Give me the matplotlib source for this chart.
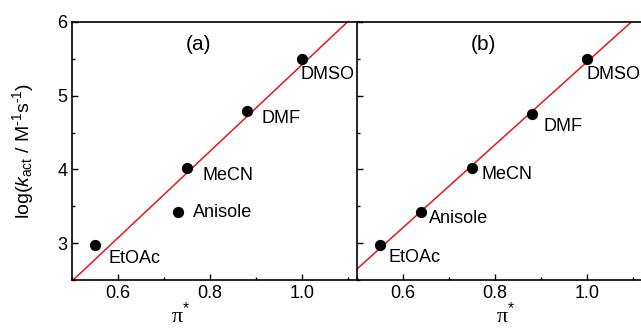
import numpy as np
import matplotlib
matplotlib.use("Agg")
import matplotlib.pyplot as plt
from matplotlib.ticker import MultipleLocator

# solvent data
solvents = ["EtOAc", "Anisole", "MeCN", "DMF", "DMSO"]
pi_a = [0.55, 0.73, 0.75, 0.88, 1.00]
pi_b = [0.55, 0.64, 0.75, 0.88, 1.00]
logk_a = [2.97, 3.42, 4.02, 4.79, 5.50]
logk_b = [2.97, 3.42, 4.02, 4.75, 5.50]

# label offsets in pixels (dx right, dy down)
offs_a = [(14, 13), (15, 0), (16, 8), (15, 7), (-1, 16)]
offs_b = [(9, 12), (8, 6), (10, 7), (12, 12), (0, 16)]

plt.rcParams['font.family'] = ['Liberation Sans', 'DejaVu Sans']
plt.rcParams['mathtext.fontset'] = 'custom'
plt.rcParams['mathtext.rm'] = 'Liberation Sans'
plt.rcParams['mathtext.it'] = 'Liberation Sans:italic'
plt.rcParams['mathtext.sf'] = 'Liberation Serif'

fig = plt.figure(figsize=(6.41, 3.29), dpi=100)
ax1 = fig.add_axes([72 / 641, 49 / 329, 286 / 641, 258 / 329])
ax2 = fig.add_axes([357 / 641, 49 / 329, 286 / 641, 258 / 329])

def draw_panel(ax, x, y, offs, tag):
    x = np.array(x)
    y = np.array(y)
    k, b = np.polyfit(x, y, 1)
    xl = np.array([0.4, 1.2])
    ax.plot(xl, k * xl + b, color='#e8161b', lw=1.1, zorder=2)
    ax.scatter(x, y, s=50, color='black', zorder=3)
    for name, xi, yi, (dx, dy) in zip(solvents, x, y, offs):
        ax.annotate(name, (xi, yi), xytext=(dx * 0.72, -dy * 0.72),
                    textcoords='offset points', ha='left', va='center', fontsize=13)
    ax.text(0.775, 5.70, tag, ha='center', va='center', fontsize=15)
    ax.set_xlim(0.5, 1.122)
    ax.set_ylim(2.5, 6.0)
    ax.xaxis.set_major_locator(MultipleLocator(0.2))
    ax.xaxis.set_minor_locator(MultipleLocator(0.1))
    ax.yaxis.set_major_locator(MultipleLocator(1))
    ax.yaxis.set_minor_locator(MultipleLocator(0.5))
    ax.tick_params(which='both', direction='in', labelsize=13, width=1)
    ax.tick_params(which='major', length=4)
    ax.tick_params(which='minor', length=2.5)
    ax.set_xticks([0.6, 0.8, 1.0])
    ax.set_xticklabels(['0.6', '0.8', '1.0'])
    for s in ax.spines.values():
        s.set_linewidth(1.2)

draw_panel(ax1, pi_a, logk_a, offs_a, '(a)')
draw_panel(ax2, pi_b, logk_b, offs_b, '(b)')

ax1.set_ylabel(r'log($k_{\mathrm{act}}$ / M$^{\text{-}1}$s$^{\text{-}1}$)', fontsize=14)
ax1.yaxis.set_label_coords(-0.125, 0.5)
ax2.tick_params(axis='y', labelleft=False)

for ax, xc in [(ax1, 0.38), (ax2, 0.52)]:
    ax.set_xlabel(r'$\mathsf{\pi}^{*}$', fontsize=16)
    ax.xaxis.set_label_coords(xc, -0.085)

fig.savefig('out.png', dpi=100)
